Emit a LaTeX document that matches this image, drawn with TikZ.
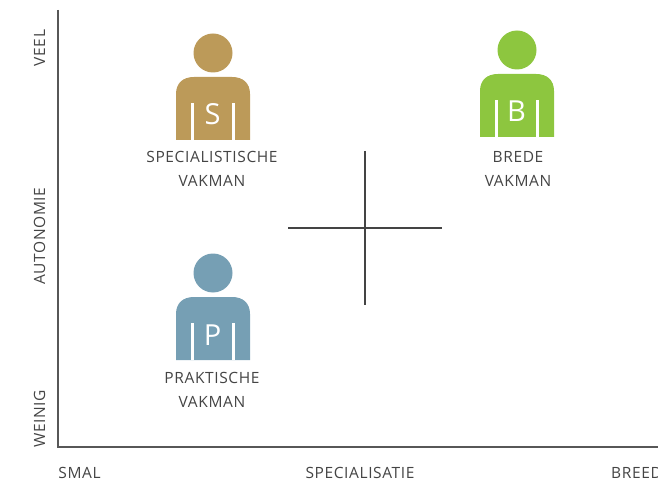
\documentclass[tikz,border=0pt]{standalone}
\usepackage{fontspec}
\setmainfont{Open Sans}[LetterSpace=4]
\definecolor{goldc}{HTML}{BC9A59}
\definecolor{greenc}{HTML}{8DC63F}
\definecolor{bluec}{HTML}{769FB4}
\definecolor{inkc}{HTML}{444444}
\tikzset{
  lab/.style={text=inkc,font=\fontsize{15.5}{16}\selectfont,inner sep=0pt,anchor=base},
  vlab/.style={lab,rotate=90},
  axisline/.style={draw=inkc!90,line width=1.5pt},
  crossline/.style={draw=inkc,line width=1.2pt},
  pic letter/.style={text=white,font=\fontsize{29}{29}\selectfont,inner sep=0pt,anchor=base}
}
\newcommand{\person}[4]{% cx, head centre y, colour, letter
  \begin{scope}[shift={(#1,#2)}]
    \fill[#3] (0,0) circle (19.5);
    \fill[#3] (-37,87) -- (-37,41) .. controls (-37,30) and (-30,24) .. (-19,24) -- (19,24) .. controls (30,24) and (37,30) .. (37,41) -- (37,87) -- cycle;
    \fill[white] (-22,50) rectangle (-19,87);
    \fill[white] (19,50) rectangle (22,87);
    \node[pic letter] (L#4) at (-0.5,72) {#4};
  \end{scope}}
\begin{document}
\begin{tikzpicture}[x=1pt,y=-1pt]
\useasboundingbox (0,0) rectangle (658,481);
\clip (0,0) rectangle (658,481);
\coordinate (top) at (58,10);
\coordinate (origin) at (58,447);
\coordinate (right) at (658,447);
\draw[axisline,line join=miter] (top) -- (origin) -- (right);
\coordinate (cl) at (288,228);
\coordinate (cr) at (442,228);
\coordinate (ct) at (365,151);
\coordinate (cb) at (365,305);
\draw[crossline] (cl) -- (cr);
\draw[crossline] (ct) -- (cb);
\person{213}{53}{goldc}{S}
\person{517}{50}{greenc}{B}
\person{213}{273}{bluec}{P}
\node[lab] (s1) at (212,163) {SPECIALISTISCHE};
\node[lab] (s2) at (212,186) {VAKMAN};
\node[lab] (b1) at (518,163) {BREDE};
\node[lab] (b2) at (518,186) {VAKMAN};
\node[lab] (p1) at (212,383) {PRAKTISCHE};
\node[lab] (p2) at (212,407) {VAKMAN};
\node[lab] (x1) at (79.5,478) {SMAL};
\node[lab] (x2) at (360,478) {SPECIALISATIE};
\node[lab,anchor=base west] (x3) at (611,478) {BREED};
\node[vlab] (y1) at (45,48) {VEEL};
\node[vlab] (y2) at (45,236) {AUTONOMIE};
\node[vlab] (y3) at (45,419) {WEINIG};
\end{tikzpicture}
\end{document}
